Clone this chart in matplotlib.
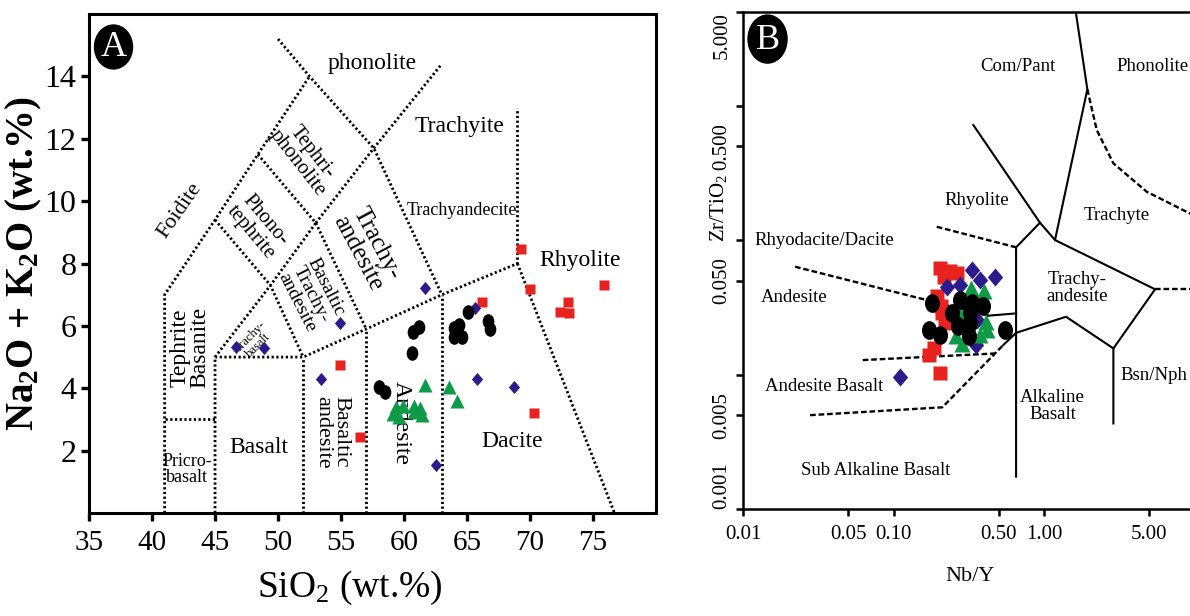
import matplotlib
matplotlib.use('Agg')
import matplotlib.pyplot as plt
from matplotlib.patches import Ellipse
from matplotlib.path import Path
from matplotlib.transforms import Affine2D

plt.rcParams['font.family'] = ['Liberation Serif', 'DejaVu Serif']
plt.rcParams['mathtext.fontset'] = 'custom'
plt.rcParams['mathtext.rm'] = 'Liberation Serif'
plt.rcParams['mathtext.bf'] = 'Liberation Serif:bold'
plt.rcParams['mathtext.it'] = 'Liberation Serif:italic'

# ---------------- panel A data (SiO2 vs Na2O+K2O) ----------------
a_red_x = [69.3, 70.0, 75.9, 66.2, 73.0, 72.4, 73.1, 54.9, 56.5, 70.3]
a_red_y = [8.48, 7.17, 7.32, 6.77, 6.77, 6.45, 6.40, 4.74, 2.45, 3.20]
a_blue_x = [46.7, 48.9, 54.9, 61.7, 53.4, 65.6, 65.8, 68.7, 62.5]
a_blue_y = [5.33, 5.30, 6.10, 7.20, 4.29, 6.56, 4.29, 4.03, 1.54]
a_green_x = [61.7, 63.6, 64.2, 59.4, 59.9, 59.1, 60.8, 61.3, 60.8, 61.4, 59.6]
a_green_y = [4.10, 4.05, 3.60, 3.41, 3.43, 3.17, 3.43, 3.36, 3.25, 3.14, 3.09]
a_black_x = [58.0, 58.5, 60.6, 60.7, 61.2, 64.0, 64.4, 64.0, 64.6, 64.2, 65.1, 66.7, 66.8]
a_black_y = [4.03, 3.89, 5.14, 5.81, 5.97, 5.92, 6.03, 5.63, 5.63, 5.80, 6.43, 6.16, 5.89]

tas_lines = [
    ([41, 41, 45, 48.4, 52.5], [0, 7, 9.4, 11.5, 14]),
    ([41, 45], [3, 3]),
    ([45, 45, 52, 57, 63, 69], [0, 5, 5, 5.9, 7, 8]),
    ([52, 52], [0, 5]),
    ([57, 57], [0, 5.9]),
    ([63, 63], [0, 7]),
    ([69, 69], [8, 13]),
    ([69, 76.7], [8, 0]),
    ([45, 49.4, 53], [5, 7.3, 9.3]),
    ([45, 49.4, 52], [9.4, 7.3, 5]),
    ([48.4, 53, 57], [11.5, 9.3, 5.9]),
    ([50.0, 52.5, 57.6, 63], [15.2, 14, 11.7, 7]),
    ([53, 57.6, 63.0], [9.3, 11.7, 14.4]),
]

tas_labels = [
    ('phonolite', 57.5, 14.4, 0, 17),
    ('Trachyite', 64.4, 12.4, 0, 17),
    ('Trachyandecite', 64.6, 9.7, 0, 13),
    ('Rhyolite', 74.0, 8.1, 0, 17),
    ('Tephri-\nphonolite', 52.1, 11.4, -52, 15),
    ('Foidite', 42.2, 9.7, 55, 16),
    ('Phono-\ntephrite', 48.4, 9.2, -50, 15),
    ('Trachy-\nandesite', 57.1, 8.5, -62, 18),
    ('Basaltic\nTrachy-\nandesite', 52.66, 7.0, -63, 14),
    ('Trachy-\nbasalt', 48.1, 5.5, 45, 9),
    ('Tephrite\nBasanite', 43.0, 5.3, 90, 17),
    ('Pricro-\nbasalt', 42.8, 1.4, 0, 13),
    ('Basalt', 48.5, 2.1, 0, 17),
    ('Basaltic\nandesite', 54.3, 2.6, -90, 16),
    ('Andesite', 59.8, 2.9, -90, 17),
    ('Dacite', 68.6, 2.3, 0, 17),
]

# ---------------- panel B data (Nb/Y vs Zr/TiO2) ----------------
b_red_x = [0.204, 0.237, 0.264, 0.217, 0.195, 0.207, 0.210, 0.220, 0.186, 0.172, 0.204]
b_red_y = [0.062, 0.059, 0.057, 0.053, 0.0385, 0.0324, 0.0288, 0.0242, 0.0158, 0.0140, 0.0103]
b_blue_x = [0.332, 0.472, 0.376, 0.227, 0.277, 0.359, 0.353, 0.110]
b_blue_y = [0.060, 0.053, 0.0506, 0.0449, 0.0465, 0.0255, 0.0166, 0.0096]
b_green_x = [0.327, 0.399, 0.277, 0.412, 0.418, 0.260, 0.376, 0.285, 0.322]
b_green_y = [0.0441, 0.0419, 0.0283, 0.0247, 0.0215, 0.0194, 0.0197, 0.0169, 0.0255]
b_black_x = [0.180, 0.245, 0.277, 0.332, 0.393, 0.322, 0.322, 0.268, 0.172, 0.204, 0.317, 0.551]
b_black_y = [0.0341, 0.0288, 0.0359, 0.0341, 0.0324, 0.0288, 0.0242, 0.0230, 0.0215, 0.0197, 0.0194, 0.0215]

wf_solid = [
    ([1.625, 1.94, 1.183, 5.47, 2.89, 2.89], [5.0, 1.324, 0.1004, 0.0432, 0.0157, 0.00435]),
    ([0.339, 0.940, 1.183], [0.719, 0.135, 0.1004]),
    ([0.940, 0.652, 0.652], [0.135, 0.0886, 0.00175]),
    ([2.89, 1.40, 0.652, 0.535], [0.0157, 0.0270, 0.0205, 0.0166]),
    ([0.427, 0.652], [0.0275, 0.0286]),
]
wf_dashed = [
    ([0.1936, 0.652], [0.126, 0.0886]),
    ([0.02216, 0.427], [0.0636, 0.0275]),
    ([0.0624, 0.472], [0.01286, 0.0144]),
    ([0.0279, 0.211, 0.535], [0.00501, 0.00573, 0.0166]),
    ([5.47, 10], [0.0432, 0.0432]),
    ([1.94, 2.24, 2.89, 4.81, 10], [1.324, 0.660, 0.373, 0.2296, 0.152]),
]

wf_labels = [
    ('Com/Pant', 0.674, 1.97),
    ('Phonolite', 5.28, 1.97),
    ('Rhyolite', 0.360, 0.199),
    ('Trachyte', 3.04, 0.154),
    ('Rhyodacite/Dacite', 0.0347, 0.1004),
    ('Trachy-\nandesite', 1.65, 0.0441),
    ('Andesite', 0.0218, 0.0377),
    ('Andesite Basalt', 0.0347, 0.00824),
    ('Alkaline\nBasalt', 1.14, 0.00586),
    ('Bsn/Nph', 5.38, 0.00995),
    ('Sub Alkaline Basalt', 0.0762, 0.00193),
]

b_xticks = [0.01, 0.05, 0.1, 0.5, 1.0, 5.0]
b_xticklabels = ['0.01', '0.05', '0.10', '0.50', '1.00', '5.00']
b_yticks = [0.001, 0.005, 0.01, 0.05, 0.1, 0.5, 1.0, 5.0]
b_yticklabels = ['0.001', '0.005', '', '0.050', '', '0.500', '', '5.000']

RED = '#e8231f'
BLUE = '#2d1a8c'
GREEN = '#0e9a47'

oval = Path.unit_circle().transformed(Affine2D().scale(0.8, 1.0))
diamond = Path([(0, -1), (0.85, 0), (0, 1), (-0.85, 0), (0, -1)],
               [Path.MOVETO, Path.LINETO, Path.LINETO, Path.LINETO, Path.CLOSEPOLY])

fig = plt.figure(figsize=(11.9, 6.16), dpi=100)
axA = fig.add_axes([0.0748, 0.1672, 0.4765, 0.810])
axB = fig.add_axes([0.6244, 0.1732, 0.3794, 0.8078])

# ---------- panel A ----------
for xs, ys in tas_lines:
    axA.plot(xs, ys, color='black', lw=2.0, ls=(0, (0.8, 0.9)), solid_capstyle='butt')
for txt, x, y, rot, fs in tas_labels:
    axA.text(x, y, txt, rotation=rot, fontsize=fs, ha='center', va='center',
             linespacing=0.95, rotation_mode='anchor')

axA.plot(a_red_x, a_red_y, 's', color=RED, ms=7.2, mec='none', zorder=3)
axA.plot(a_blue_x, a_blue_y, ls='none', marker=diamond, color=BLUE, ms=9.5, mec='none', zorder=3)
axA.plot(a_green_x, a_green_y, '^', color=GREEN, ms=10, mec='none', zorder=3)
axA.plot(a_black_x, a_black_y, ls='none', marker=oval, color='black', ms=10.5, mec='none', zorder=4)

axA.set_xlim(35, 80)
axA.set_ylim(0, 16)
axA.set_xticks([35, 40, 45, 50, 55, 60, 65, 70, 75])
axA.set_yticks([2, 4, 6, 8, 10, 12, 14])
axA.tick_params(axis='both', direction='out', length=6, width=2.4, pad=3)
axA.tick_params(axis='x', labelsize=21, pad=6)
axA.tick_params(axis='y', labelsize=23)
for s in axA.spines.values():
    s.set_linewidth(2.2)
axA.set_xlabel(r'SiO$_2$ (wt.%)', fontsize=27)
axA.xaxis.set_label_coords(0.46, -0.112)
axA.set_ylabel(r'Na$\mathbf{_2}$O + K$\mathbf{_2}$O (wt.%)', fontsize=28, fontweight='bold')
axA.yaxis.set_label_coords(-0.08, 0.5)

axA.add_patch(Ellipse((0.0432, 0.934), 0.067, 0.088, transform=axA.transAxes,
                      facecolor='black', edgecolor='black', clip_on=False, zorder=5))
axA.text(0.0432, 0.932, 'A', transform=axA.transAxes, color='white', fontsize=26,
         ha='center', va='center', zorder=6)

# ---------- panel B ----------
axB.set_xscale('log')
axB.set_yscale('log')
for xs, ys in wf_solid:
    axB.plot(xs, ys, color='black', lw=1.5)
for xs, ys in wf_dashed:
    axB.plot(xs, ys, color='black', lw=1.7, ls=(0, (2.4, 1.2)))
for txt, x, y in wf_labels:
    axB.text(x, y, txt, fontsize=13.5, ha='center', va='center', linespacing=1.0)

axB.plot(b_red_x, b_red_y, 's', color=RED, ms=10, mec='none', zorder=3)
axB.plot(b_blue_x, b_blue_y, ls='none', marker=diamond, color=BLUE, ms=13, mec='none', zorder=3)
axB.plot(b_green_x, b_green_y, '^', color=GREEN, ms=12, mec='none', zorder=3)
axB.plot(b_black_x, b_black_y, ls='none', marker=oval, color='black', ms=13.5, mec='none', zorder=4)

axB.set_xlim(0.01, 10)
axB.set_ylim(0.001, 5)
axB.minorticks_off()
axB.set_xticks(b_xticks)
axB.set_xticklabels(b_xticklabels)
axB.set_yticks(b_yticks)
axB.set_yticklabels(b_yticklabels, rotation=90)
axB.minorticks_off()
axB.tick_params(axis='both', direction='out', length=5, width=1.8, labelsize=15)
axB.tick_params(axis='x', pad=6)
ylabs = axB.get_yticklabels()
for lab in ylabs:
    lab.set_va('center')
ylabs[0].set_va('bottom')
ylabs[-1].set_va('top')
for s in axB.spines.values():
    s.set_linewidth(1.8)
axB.set_xlabel('Nb/Y', fontsize=16)
axB.xaxis.set_label_coords(0.503, -0.115)
axB.set_ylabel(r'Zr/TiO$_2$', fontsize=15)
axB.yaxis.set_label_coords(-0.032, 0.605)

axB.add_patch(Ellipse((0.0543, 0.945), 0.0864, 0.0965, transform=axB.transAxes,
                      facecolor='black', edgecolor='black', clip_on=False, zorder=5))
axB.text(0.0543, 0.943, 'B', transform=axB.transAxes, color='white', fontsize=26,
         ha='center', va='center', zorder=6)

fig.savefig('out.png', dpi=100)
